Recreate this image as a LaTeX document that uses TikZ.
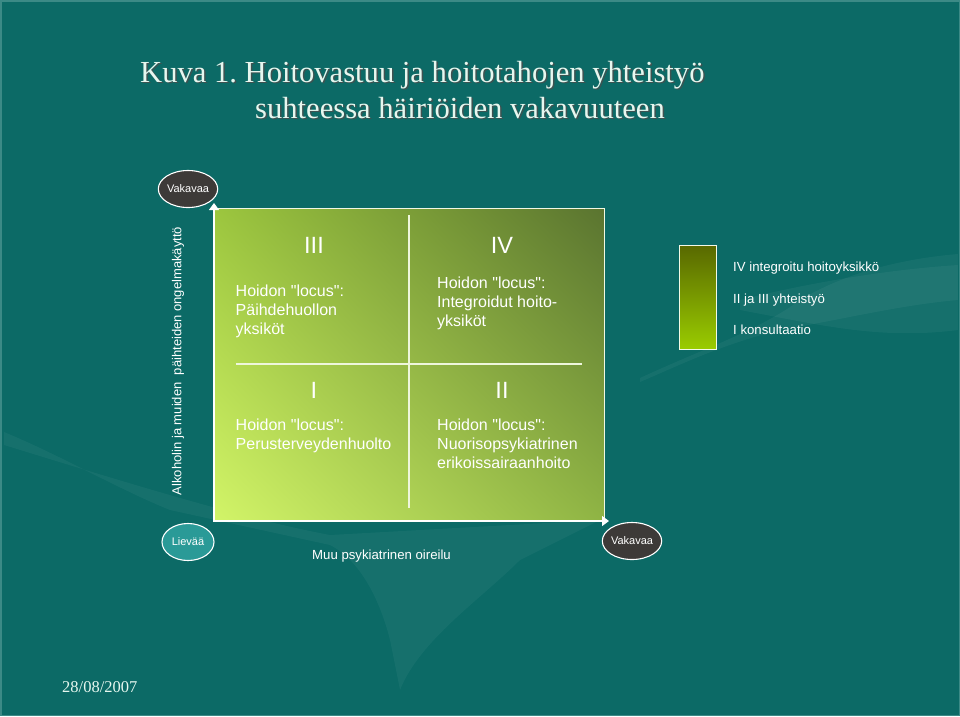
\documentclass[tikz,border=0pt]{standalone}
\usepackage{fontspec}
\setmainfont{Liberation Sans}[Ligatures=TeXOff]
\newfontfamily\titlefont{Liberation Serif}
\usetikzlibrary{arrows.meta,shapes.geometric,shadings}
\frenchspacing
\definecolor{bgteal}{HTML}{0C6A66}
\definecolor{bgedge}{HTML}{3C8A86}
\definecolor{titlecol}{HTML}{E6F7EF}
\definecolor{darkoval}{HTML}{3D3A38}
\definecolor{lightoval}{HTML}{2A9A97}
\definecolor{boxLL}{HTML}{D2F468}
\definecolor{boxUL}{HTML}{9CC63E}
\definecolor{boxUR}{HTML}{5A7430}
\definecolor{boxLR}{HTML}{8FB444}
\definecolor{legtop}{HTML}{586800}
\definecolor{legbot}{HTML}{9ACC00}
\definecolor{linecol}{HTML}{EEF6DC}
\tikzset{
  oval/.style={ellipse, draw=white, line width=1.1pt, text=white, inner sep=0pt,
    minimum width=52pt, minimum height=37pt, font=\fontsize{11}{13}\selectfont},
  quadtxt/.style={text=white, inner sep=0pt, anchor=base west, align=left,
    font=\fontsize{16}{19}\selectfont},
  numeral/.style={text=white, inner sep=0pt, anchor=base, font=\fontsize{23.5}{26}\selectfont},
  legtxt/.style={text=white, inner sep=0pt, anchor=base west, font=\fontsize{13.2}{15}\selectfont},
  axisarrow/.style={draw=white, line width=1.2pt, -{Triangle[width=10pt,length=7pt]}},
  divider/.style={draw=linecol, line width=1.2pt},
  titletxt/.style={text=titlecol, inner sep=0pt, anchor=base west, font=\titlefont\fontsize{30.6}{36}\selectfont},
  swoosh/.style={fill=white, fill opacity=0.045, draw=none}
}
\begin{document}
\begin{tikzpicture}[x=1pt,y=-1pt]
\useasboundingbox (0,0) rectangle (960,716);
% background
\fill[bgteal] (0,0) rectangle (960,716);
\draw[bgedge, line width=1.5pt] (0.75,0.75) rectangle (959.25,715.25);
% faint background swooshes
\path[swoosh] (4,432) .. controls (60,455) and (120,490) .. (170,510) -- (330,545) .. controls (360,560) and (380,600) .. (390,640) -- (400,690) .. controls (420,640) and (480,600) .. (520,560) -- (600,520) -- (330,535) .. controls (250,520) and (150,490) .. (4,445) -- cycle;
\path[swoosh] (640,378) .. controls (700,350) and (760,330) .. (800,300) .. controls (850,270) and (910,258) .. (958,254) -- (958,300) .. controls (900,305) and (840,320) .. (780,330) .. controls (720,345) and (680,365) .. (640,382) -- cycle;
\path[swoosh] (740,300) .. controls (800,285) and (880,270) .. (958,265) -- (958,330) .. controls (880,340) and (820,325) .. (740,310) -- cycle;
% title
\node[titletxt, text=black!70, opacity=0.8] at (141.5,83.5) {Kuva 1. Hoitovastuu ja hoitotahojen yhteistyö};
\node[titletxt] (t1) at (140,82) {Kuva 1. Hoitovastuu ja hoitotahojen yhteistyö};
\node[titletxt, text=black!70, opacity=0.8] at (256.5,119.5) {suhteessa häiriöiden vakavuuteen};
\node[titletxt] (t2) at (255,118) {suhteessa häiriöiden vakavuuteen};
% green box
\shade[lower left=boxLL, upper left=boxUL, upper right=boxUR, lower right=boxLR]
  (214,208) rectangle (604,520);
\draw[linecol!80, line width=0.8pt] (214,208) rectangle (604,520);
\coordinate (ybot) at (214,521);
\coordinate (ytop) at (214,203);
\coordinate (xl) at (213,521);
\coordinate (xr) at (609,521);
\draw[axisarrow] (ybot) -- (ytop);
\draw[axisarrow] (xl) -- (xr);
% dividers
\coordinate (vt) at (409,215);
\coordinate (vb) at (409,508);
\coordinate (hl) at (236,364);
\coordinate (hr) at (582,364);
\draw[divider] (vt) -- (vb);
\draw[divider] (hl) -- (hr);
% quadrant texts (base = last line)
\node[numeral] (n3) at (314,253) {III};
\node[numeral] (n4) at (502,253) {IV};
\node[numeral] (n1) at (314,398) {I};
\node[numeral] (n2) at (502,398) {II};
\node[quadtxt] (q3) at (235.5,334) {Hoidon "locus":\\Päihdehuollon\\yksiköt};
\node[quadtxt] (q4) at (437,326) {Hoidon "locus":\\Integroidut hoito-\\yksiköt};
\node[quadtxt] (q1) at (235.5,449) {Hoidon "locus":\\Perusterveydenhuolto};
\node[quadtxt] (q2) at (437,468) {Hoidon "locus":\\Nuorisopsykiatrinen\\erikoissairaanhoito};
% axis labels
\node[oval, fill=darkoval] (vak1) at (188,189) {Vakavaa};
\node[oval, fill=lightoval] (liev) at (188,542) {Lievää};
\node[oval, fill=darkoval, minimum width=54pt] (vak2) at (632,541) {Vakavaa};
\node[text=white, inner sep=0pt, rotate=90, font=\fontsize{13}{15}\selectfont] (ylab) at (178,361) {Alkoholin ja muiden\ \ päihteiden ongelmakäyttö};
\node[text=white, inner sep=0pt, anchor=base west, font=\fontsize{13.2}{15}\selectfont] (xlab) at (312,559) {Muu psykiatrinen oireilu};
% legend
\shade[top color=legtop, bottom color=legbot, middle color=legtop!50!legbot] (679,245) rectangle (716,349);
\draw[linecol!70!white, line width=1pt] (679,245) rectangle (716,349);
\node[legtxt] (l1) at (733,271) {IV integroitu hoitoyksikkö};
\node[legtxt] (l2) at (733,303) {II ja III yhteistyö};
\node[legtxt] (l3) at (733,334) {I konsultaatio};
% date
\node[text=titlecol, inner sep=0pt, anchor=base west, font=\titlefont\fontsize{16.5}{19}\selectfont] (date) at (62,692) {28/08/2007};
\end{tikzpicture}
\end{document}
